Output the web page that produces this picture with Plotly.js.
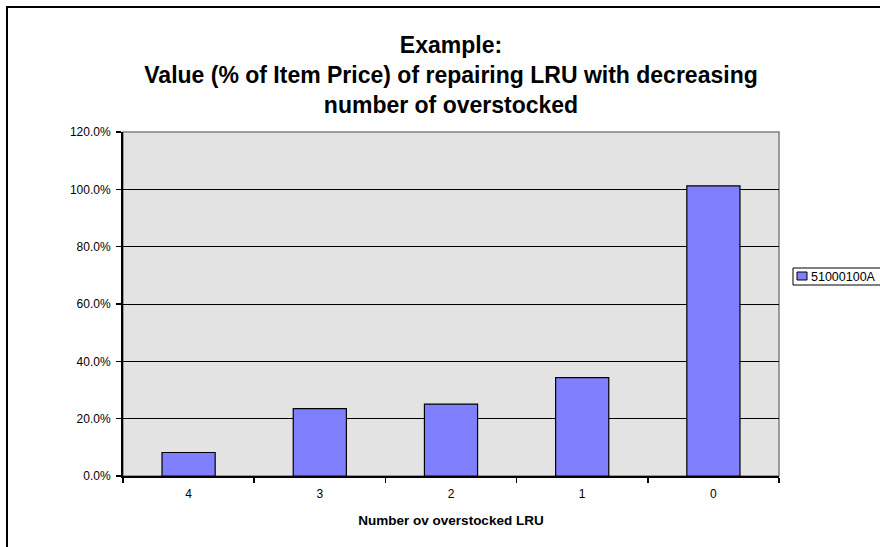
<!DOCTYPE html>
<html>
<head>
<meta charset="utf-8">
<script src="https://cdn.plot.ly/plotly-3.0.1.min.js"></script>
<style>
  html, body { margin: 0; padding: 0; background: #fff; }
  #wrap { position: relative; width: 880px; height: 547px; overflow: hidden; }
  #chart { width: 880px; height: 547px; }
  #frame { position: absolute; left: 6px; top: 6px; width: 1000px; height: 1000px;
           border-left: 2px solid #000; border-top: 2px solid #000; pointer-events: none; }
</style>
</head>
<body>
<div id="wrap">
  <div id="chart"></div>
  <div id="frame"></div>
</div>
<script>
// ---- data ----
const categories = ["4", "3", "2", "1", "0"];
const seriesName = "51000100A";
const values = [0.082, 0.235, 0.251, 0.343, 1.012];
const yTickVals = [0, 0.2, 0.4, 0.6, 0.8, 1.0, 1.2];
const boundaryTicks = [-0.5, 0.5, 1.5, 2.5, 3.5, 4.5];

const FONT = "Arial, 'Liberation Sans', sans-serif";
const W = 880, H = 547;
const L = 123, R = 101, T = 132, B = 71;
const pw = W - L - R, ph = H - T - B;
const px = x => (x - L) / pw;          // pixel -> paper x
const py = y => (H - B - y) / ph;      // pixel -> paper y

const trace = {
  type: "bar",
  x: categories,
  y: values,
  name: seriesName,
  marker: { color: "#8080FF", line: { color: "#000", width: 1.2 } },
  hoverinfo: "x+y"
};

const layout = {
  width: W, height: H,
  margin: { l: L, r: R, t: T, b: B, pad: 0 },
  paper_bgcolor: "#fff",
  plot_bgcolor: "#E3E3E3",
  showlegend: false,
  bargap: 0.595,
  font: { family: FONT, size: 12, color: "#000" },
  title: {
    text: "Example:<br>Value (% of Item Price) of repairing LRU with decreasing<br>number of overstocked",
    font: { family: FONT, size: 23, color: "#000", weight: "bold" },
    x: px(451), xanchor: "center", xref: "paper",
    y: 1 - 53 / H, yanchor: "top", yref: "container"
  },
  xaxis: {
    type: "category",
    tickson: "boundaries",
    ticks: "outside", ticklen: 5, tickwidth: 1.5, tickcolor: "#000",
    showline: true, linecolor: "#000", linewidth: 2,
    showgrid: false, zeroline: false,
    tickfont: { family: FONT, size: 12, color: "#000" },
    ticklabelstandoff: 6,
    title: {
      text: "Number ov overstocked LRU",
      font: { family: FONT, size: 13.5, color: "#000", weight: "bold" },
      standoff: 15
    }
  },
  xaxis2: {
    overlaying: "x", anchor: "y", side: "bottom",
    range: [-0.5, 4.5],
    tickmode: "array", tickvals: boundaryTicks,
    ticks: "inside", ticklen: 5, tickwidth: 1.5, tickcolor: "#000",
    showticklabels: false, showline: false, showgrid: false, zeroline: false
  },
  yaxis: {
    range: [0, 1.2],
    tickmode: "array", tickvals: yTickVals,
    tickformat: ".1%",
    ticks: "outside", ticklen: 5, tickwidth: 1.5, tickcolor: "#000",
    showline: true, linecolor: "#000", linewidth: 2,
    showgrid: true, gridcolor: "#000", gridwidth: 1,
    zeroline: false,
    tickfont: { family: FONT, size: 12, color: "#000" },
    ticklabelstandoff: 3
  },
  shapes: [
    // gray plot-area border (top/right visible)
    { type: "rect", xref: "paper", yref: "paper", x0: 0, x1: 1, y0: 0, y1: 1,
      line: { color: "#808080", width: 1.5 }, fillcolor: "rgba(0,0,0,0)", layer: "between" },
    // legend box
    { type: "rect", xref: "paper", yref: "paper",
      x0: px(793), x1: px(890), y0: py(285), y1: py(268),
      line: { color: "#000", width: 1 }, fillcolor: "#fff", layer: "above" },
    // legend swatch
    { type: "rect", xref: "paper", yref: "paper",
      x0: px(797), x1: px(807), y0: py(280), y1: py(272),
      line: { color: "#000", width: 1 }, fillcolor: "#8080FF", layer: "above" }
  ],
  annotations: [
    { xref: "paper", yref: "paper", x: px(809), y: py(276.5),
      xanchor: "left", yanchor: "middle", showarrow: false,
      text: seriesName, font: { family: FONT, size: 12.5, color: "#000" } }
  ]
};

Plotly.newPlot("chart", [trace], layout, { displayModeBar: false, staticPlot: true });
</script>
</body>
</html>
